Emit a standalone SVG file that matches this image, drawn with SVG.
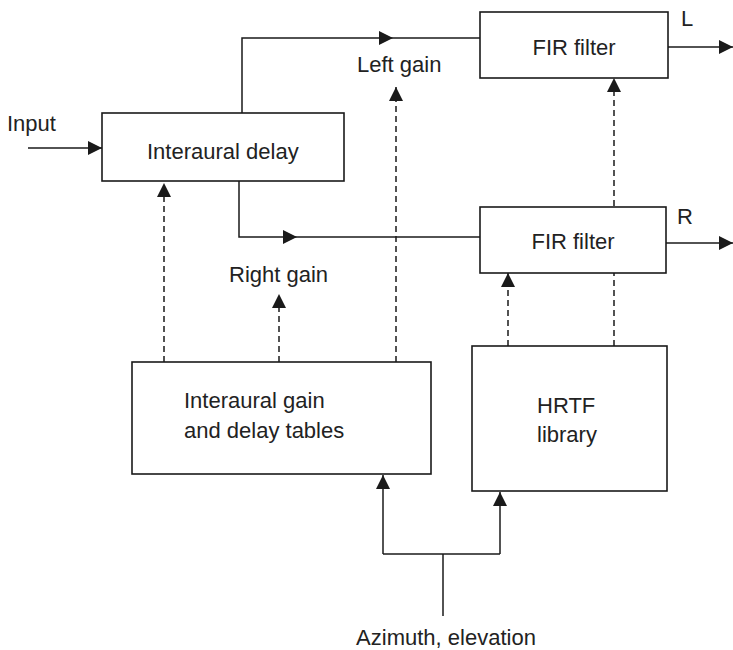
<svg xmlns="http://www.w3.org/2000/svg" width="733" height="650" viewBox="0 0 733 650">
  <defs>
    <marker id="arrow" markerUnits="userSpaceOnUse" markerWidth="14" markerHeight="14" refX="14" refY="7" orient="auto">
      <path d="M0,0 L14,7 L0,14 z" fill="#1a1a1a"/>
    </marker>
    <style>
      .wire { fill: none; stroke: #1a1a1a; stroke-width: 1.5; }
      .ctrl { fill: none; stroke: #1a1a1a; stroke-width: 1.5; stroke-dasharray: 6 4; }
      .box { fill: #ffffff; stroke: #1a1a1a; stroke-width: 1.6; }
      .lbl { font-family: "Liberation Sans", Arial, sans-serif; font-size: 22px; fill: #222222; }
      .mid { text-anchor: middle; }
    </style>
  </defs>
  <rect width="733" height="650" fill="#ffffff"/>

  <g id="connectors">
    <!-- signal path -->
    <path class="wire" d="M28,148 H102" marker-end="url(#arrow)"/>
    <path class="wire" d="M242,113 V38 H393" marker-end="url(#arrow)"/>
    <path class="wire" d="M393,38 H480"/>
    <path class="wire" d="M239,181 V237 H297" marker-end="url(#arrow)"/>
    <path class="wire" d="M297,237 H480"/>
    <path class="wire" d="M668,47 H733" marker-end="url(#arrow)"/>
    <path class="wire" d="M666,243 H733" marker-end="url(#arrow)"/>
    <!-- control paths -->
    <path class="ctrl" d="M164,362 V183" marker-end="url(#arrow)"/>
    <path class="ctrl" d="M279,362 V294" marker-end="url(#arrow)"/>
    <path class="ctrl" d="M396,362 V87" marker-end="url(#arrow)"/>
    <path class="ctrl" d="M508,346 V273" marker-end="url(#arrow)"/>
    <path class="ctrl" d="M614,346 V78" marker-end="url(#arrow)"/>
    <!-- azimuth / elevation feed -->
    <path class="wire" d="M443,616 V554"/>
    <path class="wire" d="M383,554 H500"/>
    <path class="wire" d="M383,554 V475" marker-end="url(#arrow)"/>
    <path class="wire" d="M500,554 V492" marker-end="url(#arrow)"/>
  </g>

  <g id="interaural-delay">
    <rect class="box" x="102" y="113" width="242" height="68"/>
    <text class="lbl" x="147" y="159">Interaural delay</text>
  </g>

  <g id="fir-left">
    <rect class="box" x="480" y="12" width="188" height="66"/>
    <text class="lbl mid" x="574" y="55">FIR filter</text>
  </g>

  <g id="fir-right">
    <rect class="box" x="480" y="207" width="186" height="66"/>
    <text class="lbl mid" x="573" y="249">FIR filter</text>
  </g>

  <g id="gain-delay-tables">
    <rect class="box" x="132" y="362" width="299" height="112"/>
    <text class="lbl" x="184" y="408">Interaural gain</text>
    <text class="lbl" x="184" y="438">and delay tables</text>
  </g>

  <g id="hrtf-library">
    <rect class="box" x="472" y="346" width="195" height="145"/>
    <text class="lbl" x="537" y="413">HRTF</text>
    <text class="lbl" x="537" y="442">library</text>
  </g>

  <g id="labels">
    <text class="lbl" x="7" y="131">Input</text>
    <text class="lbl" x="357" y="72">Left gain</text>
    <text class="lbl" x="229" y="282">Right gain</text>
    <text class="lbl" x="681" y="26">L</text>
    <text class="lbl" x="677" y="224">R</text>
    <text class="lbl mid" x="446" y="645">Azimuth, elevation</text>
  </g>
</svg>
